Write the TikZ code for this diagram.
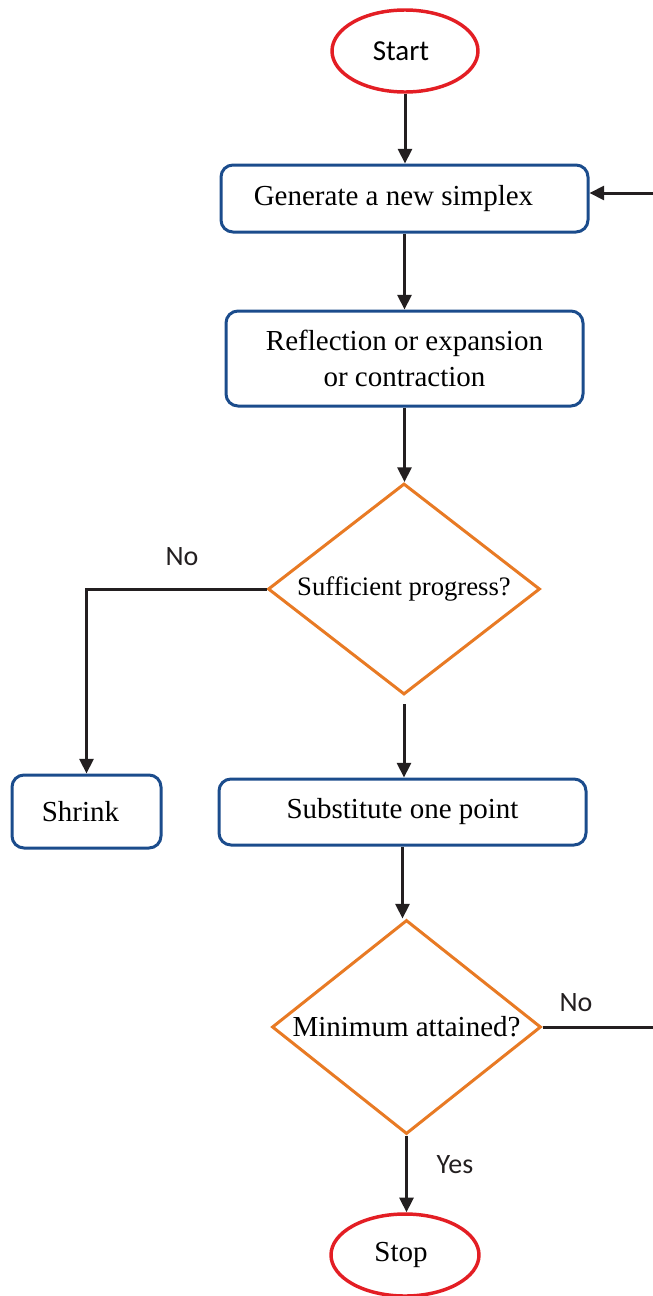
\documentclass[tikz,border=0pt]{standalone}
\usepackage{fontspec}
\setmainfont{Liberation Serif}
\newfontfamily\calfont{Carlito}
\usetikzlibrary{shapes.geometric,arrows.meta}
\definecolor{cred}{HTML}{E31E24}
\definecolor{cblue}{HTML}{1B4C8C}
\definecolor{corange}{HTML}{E87A24}
\definecolor{cblack}{HTML}{231F20}
\begin{document}
\begin{tikzpicture}[x=0.75pt,y=-0.75pt,
  termbox/.style={ellipse,draw=cred,line width=2.6pt,inner sep=0pt,
    minimum width=#1*0.75pt,minimum height=82*0.75pt},
  procbox/.style={draw=cblue,line width=2.25pt,rounded corners=9pt,inner sep=0pt,
    align=center,font=\fontsize{21.75}{27}\selectfont},
  decbox/.style={diamond,draw=corange,line width=2.25pt,inner sep=0pt,aspect=1.28,
    font=\fontsize{21.75}{26}\selectfont},
  conn/.style={draw=cblack,line width=2.25pt,-{Triangle[length=11pt,width=10.5pt]}},
  plain/.style={draw=cblack,line width=2.25pt},
  lab/.style={font=\calfont\fontsize{21}{25}\selectfont,text=cblack}]
\useasboundingbox (0,0) rectangle (653,1296);
\clip (0,0) rectangle (653,1296);
\node[termbox=146,font=\calfont\fontsize{21.75}{26}\selectfont] (start) at (405,51) {\hspace*{-6pt}Start};
\node[procbox,minimum width=367*0.75pt,minimum height=67*0.75pt] (gen) at (404.5,198.5) {\hspace*{-16.5pt}\raisebox{-2pt}{Generate a new simplex}};
\node[procbox,minimum width=357*0.75pt,minimum height=95*0.75pt] (refl) at (404.5,358.5) {Reflection or expansion\\or contraction};
\node[decbox,minimum width=272*0.75pt,minimum height=211*0.75pt,font=\fontsize{20}{24}\selectfont] (d1) at (404,589) {Sufficient progress?};
\node[procbox,minimum width=149*0.75pt,minimum height=73*0.75pt] (shrink) at (86.5,811.5) {\hspace*{-9pt}Shrink};
\node[procbox,minimum width=367*0.75pt,minimum height=66*0.75pt] (subst) at (402.5,812) {\raisebox{-2pt}{Substitute one point}};
\node[decbox,minimum width=269*0.75pt,minimum height=214*0.75pt] (d2) at (406.5,1027) {Minimum attained?};
\node[termbox=148,font=\fontsize{21.75}{26}\selectfont] (stop) at (405,1255) {\hspace*{-6pt}Stop};
\node[lab] (no1) at (182,557) {No};
\node[lab] (no2) at (576,1003) {No};
\node[lab] (yes) at (455,1165) {Yes};
\coordinate (r1) at (657,1027);
\coordinate (r2) at (657,193);
\draw[conn] (start.south) -- (start.south |- gen.north);
\draw[conn] (gen.south) -- (gen.south |- refl.north);
\draw[conn] (refl.south) -- (refl.south |- d1.north);
\draw[conn,shorten <=8*0.75pt] (d1.south) -- (d1.south |- subst.north);
\draw[conn] (subst.south) -- (subst.south |- d2.north);
\draw[conn] (d2.south) -- (d2.south |- stop.north);
\draw[conn] (d1.west) -| (shrink.north);
\draw[plain] (d2.east) -- (r1) -- (r2);
\draw[conn] (r2) -- (r2 -| gen.east);
\end{tikzpicture}
\end{document}
